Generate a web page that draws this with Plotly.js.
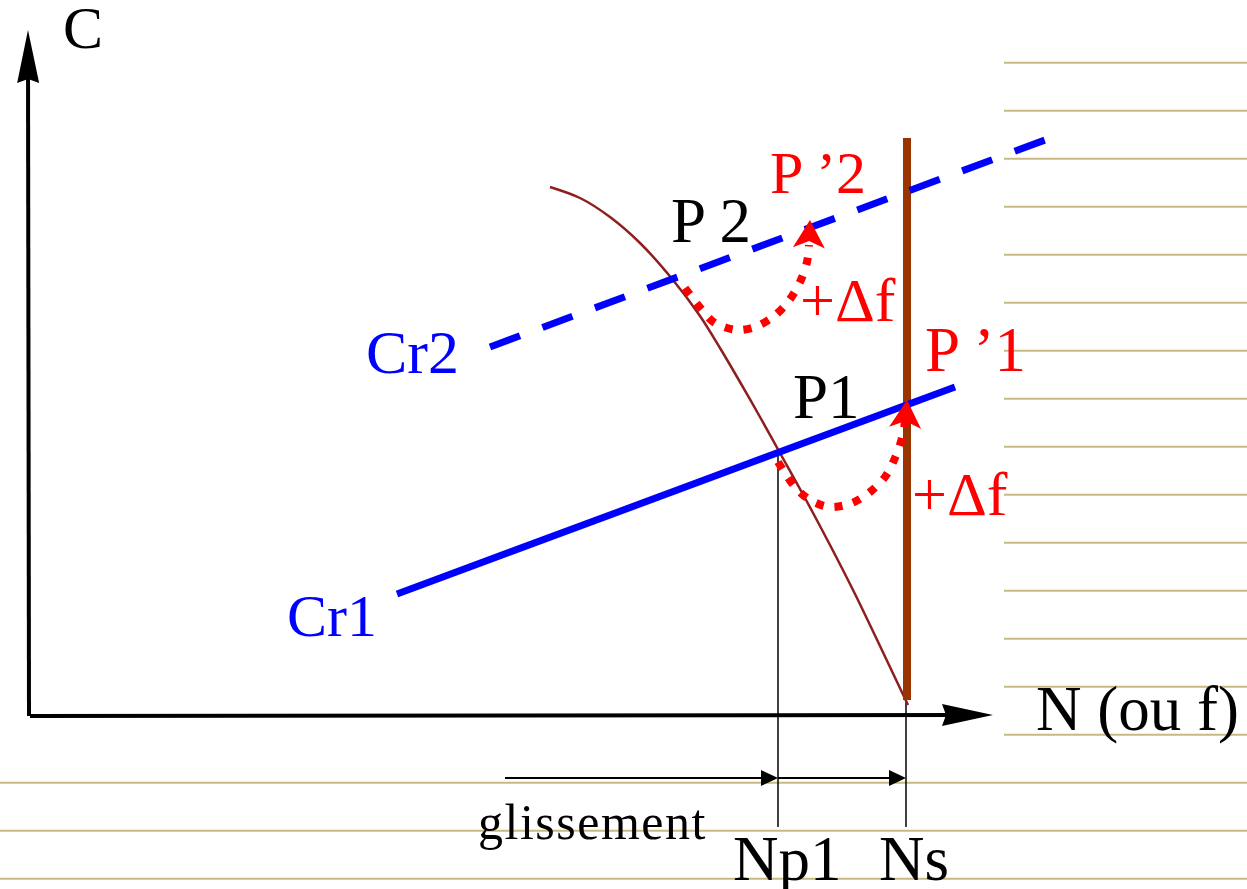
<!DOCTYPE html>
<html>
<head>
<meta charset="utf-8">
<script src="https://cdn.plot.ly/plotly-3.0.1.min.js"></script>
<style>
  html, body { margin: 0; padding: 0; background: #ffffff; }
  #chart { width: 1247px; height: 889px; }
</style>
</head>
<body>
<div id="chart"></div>
<script>
// Torque / speed diagram of an induction motor: C = f(N).
// Units: N along the horizontal axis, C along the vertical axis (origin at the axes' corner).

// Axes (origin and arrow tips)
const axisOrigin = [0, 0];
const cAxisTip = [-2, 686];
const nAxisTip = [963, 1];

// Motor torque curve (stable part)
const motorN = [520, 550, 580, 610, 643, 670, 690, 710, 730, 750, 775, 800, 825, 850, 878];
const motorC = [529, 518, 499, 473, 436, 400, 368, 334, 299, 263, 218, 171, 122, 70, 11];

// Synchronous speed Ns (vertical line)
const nsN = [877, 877];
const nsC = [16, 578];

// Load torque lines Cr1 (solid) and Cr2 (dashed)
const cr1N = [367, 925];
const cr1C = [122, 329];
const cr2N = [460, 1015];
const cr2C = [369, 576];

// Frequency step +Δf : path from P1 to P'1, and from P2 to P'2
const arc1N = [748, 765, 780, 800, 822, 840, 855, 865, 872, 876];
const arc1C = [254, 229, 216, 209, 213, 224, 239, 258, 278, 301];
const arc1Tip = [877, 316];
const arc2N = [655, 672, 685, 707, 725, 743, 758, 770, 777, 779];
const arc2C = [428, 406, 393, 386, 389, 399, 414, 434, 454, 471];
const arc2Tip = [780, 496];

// Speeds marked under the axis and the slip dimension
const np1 = 748;
const ns = 876;
const p1C = 266;
const slipStartN = 475;
const dimC = -62;
const guideBottomC = -111;

// Labels
const labelText = ['C', 'P 2', 'P \u20192', '+\u0394f', 'Cr2', 'P \u20191', 'P1', '+\u0394f', 'Cr1', 'N (ou f)',
  '<span style="letter-spacing:1.5px">glissement</span>', 'Np1', 'Ns'];
const labelN = [53, 681, 788, 818, 382, 945, 796, 930, 302, 1107, 592 - 30, 757, 884];
const labelC = [688, 495, 543, 416, 364, 366, 319, 222, 100, 7, -106, -143, -143];
const labelColor = ['#000', '#000', '#ff0000', '#ff0000', '#0000ff', '#ff0000', '#000', '#ff0000', '#0000ff', '#000', '#000', '#000', '#000'];
const labelSize = [60, 63, 60, 62, 62, 63, 63, 62, 60, 63, 50, 63, 63];

const SERIF = 'Liberation Serif';

// Filled arrow head with its tip at `tip`, pointing away from `from`
function arrowHead(tip, from, len, half, notch, color) {
  const dx = tip[0] - from[0], dy = tip[1] - from[1];
  const d = Math.hypot(dx, dy);
  const ux = dx / d, uy = dy / d;
  const px = -uy, py = ux;
  const bx = tip[0] - ux * len, by = tip[1] - uy * len;
  const nx = tip[0] - ux * (len - notch), ny = tip[1] - uy * (len - notch);
  const path = 'M' + tip[0] + ',' + tip[1] +
    ' L' + (bx + px * half) + ',' + (by + py * half) +
    ' L' + nx + ',' + ny +
    ' L' + (bx - px * half) + ',' + (by - py * half) + ' Z';
  return { type: 'path', xref: 'x', yref: 'y', path: path, fillcolor: color, line: { width: 0 }, layer: 'above' };
}

function line(xs, ys, color, width, dash, shape) {
  return {
    x: xs, y: ys, type: 'scatter', mode: 'lines', hoverinfo: 'skip',
    line: { color: color, width: width, dash: dash || 'solid', shape: shape || 'linear', smoothing: 0.9 }
  };
}

const traces = [
  // guides down to the speed marks
  line([np1, np1], [p1C, guideBottomC], '#000', 1.5),
  line([ns, ns], [nsC[0], guideBottomC], '#000', 1.5),
  // slip dimension
  line([slipStartN, np1 - 8], [dimC, dimC], '#000', 2),
  line([np1, ns - 8], [dimC, dimC], '#000', 2),
  // axes
  line([axisOrigin[0] - 1, cAxisTip[0]], [axisOrigin[1], cAxisTip[1] - 30], '#000', 4),
  line([axisOrigin[0], nAxisTip[0] - 30], [axisOrigin[1], nAxisTip[1]], '#000', 4),
  // motor curve and Ns
  line(motorN, motorC, '#8e1f1f', 2.5, 'solid', 'spline'),
  line(nsN, nsC, '#993300', 8),
  // load lines
  line(cr1N, cr1C, '#0000ff', 7),
  line(cr2N, cr2C, '#0000ff', 7, '32px,24px'),
  // +Δf paths
  line(arc1N, arc1C, '#ff0000', 8, '8px,11px', 'spline'),
  line(arc2N, arc2C, '#ff0000', 8, '8px,11px', 'spline')
];

const shapes = [];

// ruled lines of the page background
const RULE_FIRST = 62.7, RULE_STEP = 48, RULE_COUNT = 18, RULE_SHORT = 15;
for (let k = 0; k < RULE_COUNT; k++) {
  const yPx = RULE_FIRST + k * RULE_STEP;
  shapes.push({
    type: 'line', xref: 'paper', yref: 'paper', layer: 'below',
    x0: k < RULE_SHORT ? 1004 / 1247 : 0, x1: 1,
    y0: 1 - yPx / 889, y1: 1 - yPx / 889,
    line: { color: '#c8b982', width: 2 }
  });
}

// arrow heads
shapes.push(arrowHead(cAxisTip, axisOrigin, 53, 11, 4, '#000'));
shapes.push(arrowHead(nAxisTip, axisOrigin, 51, 11, 4, '#000'));
shapes.push(arrowHead(arc1Tip, [arc1N[arc1N.length - 1], arc1C[arc1C.length - 1]], 28, 16, 7, '#ff0000'));
shapes.push(arrowHead(arc2Tip, [arc2N[arc2N.length - 1], arc2C[arc2C.length - 1]], 28, 16, 7, '#ff0000'));
shapes.push(arrowHead([np1, dimC], [slipStartN, dimC], 17, 8, 0, '#000'));
shapes.push(arrowHead([ns, dimC], [np1, dimC], 17, 8, 0, '#000'));

const annotations = labelText.map((t, i) => ({
  x: labelN[i], y: labelC[i], xref: 'x', yref: 'y', text: t, showarrow: false,
  xanchor: 'center', yanchor: 'middle',
  font: { family: SERIF, size: labelSize[i], color: labelColor[i] }
}));

const layout = {
  width: 1247, height: 889,
  margin: { l: 0, r: 0, t: 0, b: 0, pad: 0 },
  paper_bgcolor: '#ffffff', plot_bgcolor: 'rgba(0,0,0,0)',
  showlegend: false,
  xaxis: { range: [-30, 1217], visible: false, fixedrange: true },
  yaxis: { range: [-173, 716], visible: false, fixedrange: true },
  shapes: shapes,
  annotations: annotations
};

Plotly.newPlot('chart', traces, layout, { displayModeBar: false, staticPlot: true });
</script>
</body>
</html>
